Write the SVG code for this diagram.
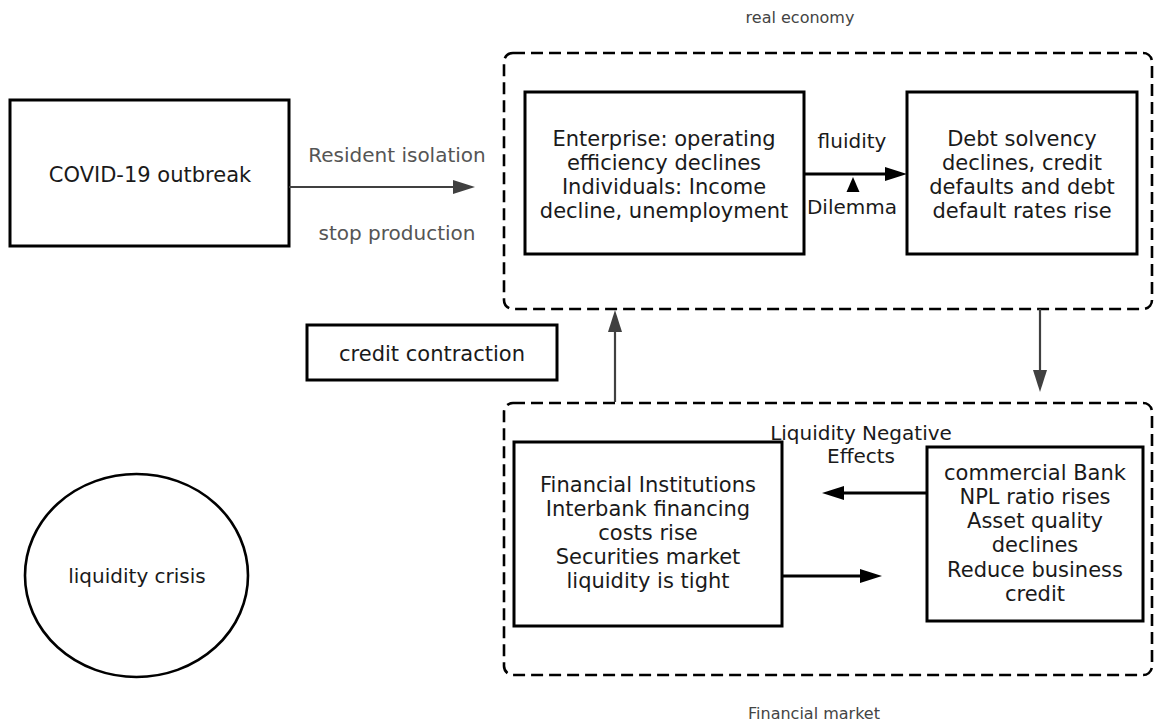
<svg xmlns="http://www.w3.org/2000/svg" width="1156" height="723" viewBox="0 0 1156 723">
  <defs>
    <style>
      .box { fill: #ffffff; stroke: #000000; stroke-width: 3; }
      .group { fill: none; stroke: #000000; stroke-width: 2.6; stroke-dasharray: 12 6; }
      .t { font-family: "DejaVu Sans", "Liberation Sans", sans-serif; font-size: 21px; fill: #1a1a1a; text-anchor: middle; }
      .lbl { font-family: "DejaVu Sans", "Liberation Sans", sans-serif; font-size: 20px; fill: #1a1a1a; text-anchor: middle; }
      .glbl { font-family: "DejaVu Sans", "Liberation Sans", sans-serif; font-size: 20px; fill: #555555; text-anchor: middle; }
      .cap { font-family: "DejaVu Sans", "Liberation Sans", sans-serif; font-size: 16px; fill: #444444; text-anchor: middle; }
      .gline { fill: none; stroke: #404040; stroke-width: 2.2; }
      .bline { fill: none; stroke: #000000; stroke-width: 3; }
    </style>
    <marker id="ahGrey" markerUnits="userSpaceOnUse" markerWidth="22" markerHeight="14" refX="6" refY="7" orient="auto">
      <path d="M0,0 L22,7 L0,14 z" fill="#404040"/>
    </marker>
    <marker id="ahBlack" markerUnits="userSpaceOnUse" markerWidth="22" markerHeight="14" refX="6" refY="7" orient="auto">
      <path d="M0,0 L22,7 L0,14 z" fill="#000000"/>
    </marker>
  </defs>
  <rect x="0" y="0" width="1156" height="723" fill="#ffffff"/>

  <g id="real-economy">
    <rect class="group" x="504" y="53" width="648" height="256" rx="9"/>
    <text class="cap" x="800" y="23">real economy</text>
  </g>

  <g id="financial-market">
    <rect class="group" x="504" y="403" width="648" height="272" rx="9"/>
    <text class="cap" x="814" y="719">Financial market</text>
  </g>

  <g id="covid">
    <rect class="box" x="10" y="100" width="279" height="146"/>
    <text class="t" x="150" y="182">COVID-19 outbreak</text>
  </g>

  <g id="enterprise">
    <rect class="box" x="525" y="92" width="279" height="162"/>
    <text class="t" x="664" y="146">Enterprise: operating</text>
    <text class="t" x="664" y="170">efficiency declines</text>
    <text class="t" x="664" y="194">Individuals: Income</text>
    <text class="t" x="664" y="218">decline, unemployment</text>
  </g>

  <g id="debt">
    <rect class="box" x="907" y="92" width="230" height="162"/>
    <text class="t" x="1022" y="146">Debt solvency</text>
    <text class="t" x="1022" y="170">declines, credit</text>
    <text class="t" x="1022" y="194">defaults and debt</text>
    <text class="t" x="1022" y="218">default rates rise</text>
  </g>

  <g id="credit-contraction">
    <rect class="box" x="307" y="325" width="250" height="55"/>
    <text class="t" x="432" y="361">credit contraction</text>
  </g>

  <g id="financial-institutions">
    <rect class="box" x="514" y="442" width="268" height="184"/>
    <text class="t" x="648" y="492">Financial Institutions</text>
    <text class="t" x="648" y="516">Interbank financing</text>
    <text class="t" x="648" y="540">costs rise</text>
    <text class="t" x="648" y="564">Securities market</text>
    <text class="t" x="648" y="588">liquidity is tight</text>
  </g>

  <g id="commercial-bank">
    <rect class="box" x="927" y="447" width="216" height="174"/>
    <text class="t" x="1035" y="480">commercial Bank</text>
    <text class="t" x="1035" y="504">NPL ratio rises</text>
    <text class="t" x="1035" y="528">Asset quality</text>
    <text class="t" x="1035" y="552">declines</text>
    <text class="t" x="1035" y="577">Reduce business</text>
    <text class="t" x="1035" y="601">credit</text>
  </g>

  <g id="liquidity-crisis">
    <ellipse cx="136.5" cy="575.5" rx="111.5" ry="101.5" fill="#ffffff" stroke="#000000" stroke-width="2.6"/>
    <text class="lbl" x="137" y="583">liquidity crisis</text>
  </g>

  <g id="connectors">
    <line class="gline" x1="289" y1="187" x2="459" y2="187" marker-end="url(#ahGrey)"/>
    <text class="glbl" x="397" y="162">Resident isolation</text>
    <text class="glbl" x="397" y="240">stop production</text>

    <line class="bline" x1="804" y1="174" x2="891" y2="174" marker-end="url(#ahBlack)"/>
    <polygon points="853,177 846.5,192 859.5,192" fill="#000000"/>
    <text class="lbl" x="852" y="148">fluidity</text>
    <text class="lbl" x="852" y="214">Dilemma</text>

    <line class="gline" x1="1040" y1="309" x2="1040" y2="376" marker-end="url(#ahGrey)"/>
    <line class="gline" x1="615" y1="402" x2="615" y2="326" marker-end="url(#ahGrey)"/>

    <line class="bline" x1="927" y1="493" x2="838" y2="493" marker-end="url(#ahBlack)"/>
    <line class="bline" x1="782" y1="576" x2="866" y2="576" marker-end="url(#ahBlack)"/>
    <text class="lbl" x="861" y="440">Liquidity Negative</text>
    <text class="lbl" x="861" y="463">Effects</text>
  </g>
</svg>
